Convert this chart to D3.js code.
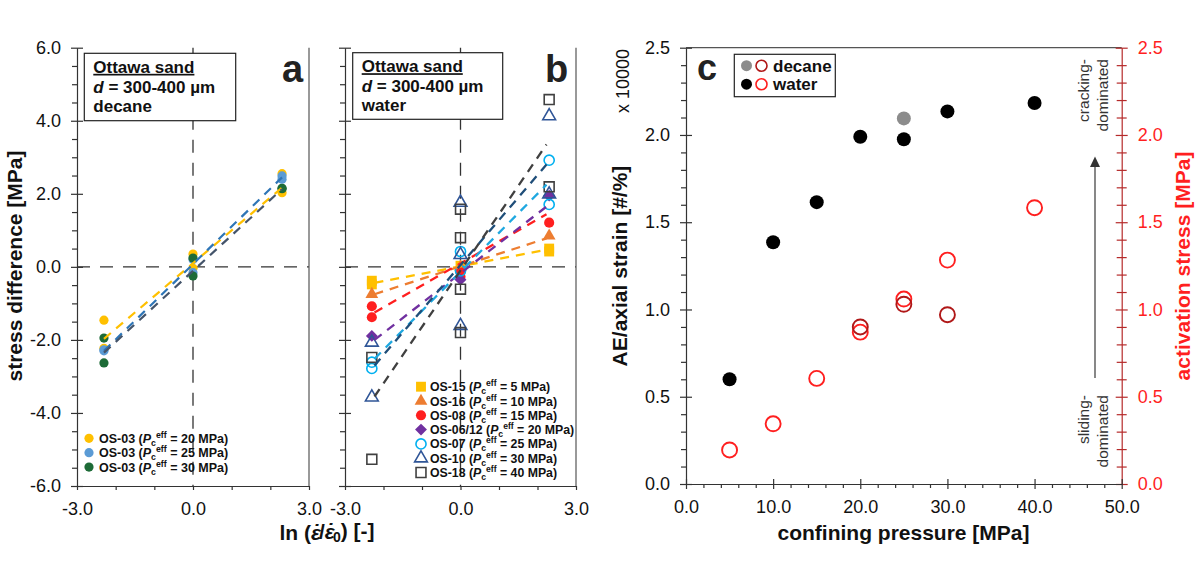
<!DOCTYPE html>
<html>
<head>
<meta charset="utf-8">
<script src="https://cdn.jsdelivr.net/npm/d3@7"></script>
<style>
  body { margin: 0; background: #fff; }
  svg { display: block; }
</style>
</head>
<body>
<div id="chart"></div>
<script>
// ---------- data ----------
var L = 2.303; // ln(10), the strain rate step

// panel a: OS-03 in decane, [ln rate, stress difference]
var os03_20 = [[-L, -1.46], [-L, -2.23], [0, 0.35], [0, -0.04], [L, 2.55], [L, 2.03]];
var os03_25 = [[-L, -2.30], [-L, -2.27], [0, 0.20], [0, -0.16], [L, 2.49], [L, 2.40]];
var os03_30 = [[-L, -1.95], [-L, -2.63], [0, 0.24], [0, -0.25], [L, 2.15], [L, 2.14]];
var aPc = [20, 25, 30];
var aPoints = [os03_20, os03_25, os03_30];
// trend lines, value at -L and +L
var aFits = [[-1.97, 2.17], [-2.30, 2.45], [-2.35, 2.13]];

// panel b: water
var os15 = [[-L, -0.38], [-L, -0.48], [0, 0.03], [L, 0.50], [L, 0.42]];
var os16 = [[-L, -0.75], [0, 0.00], [L, 0.85]];
var os08 = [[-L, -1.08], [-L, -1.38], [0, -0.15], [0, -0.27], [L, 1.21]];
var os0612 = [[-L, -1.89], [0, -0.35], [L, 1.95]];
var os07 = [[-L, -2.61], [-L, -2.78], [0, 0.42], [0, -0.11], [L, 2.92], [L, 1.71]];
var os10 = [[-L, -2.07], [-L, -3.57], [0, 1.76], [0, 0.33], [0, -1.61], [L, 4.13], [L, 1.99]];
var os18 = [[-L, -2.48], [-L, -5.27], [0, 1.58], [0, 0.80], [0, -0.61], [0, -1.80], [L, 4.58], [L, 2.19]];
var bNames = ["OS-15", "OS-16", "OS-08", "OS-06/12", "OS-07", "OS-10", "OS-18"];
var bPc = [5, 10, 15, 20, 25, 30, 40];
var bPoints = [os15, os16, os08, os0612, os07, os10, os18];
var bFits = [[-0.44, 0.47], [-0.75, 0.78], [-1.25, 1.44], [-2.00, 1.65], [-2.52, 2.25], [-2.70, 2.80], [-3.55, 3.35]];

// panel c
var pressure = [5, 10, 15, 20, 25, 30, 40];
var aeWater = [0.60, 1.385, 1.615, 1.99, 1.975, 2.135, 2.183];      // x 10000
var actWater = [0.195, 0.345, 0.605, 0.87, 1.06, 1.283, 1.583];     // MPa
var aeDecaneP = [25];
var aeDecane = [2.095];
var actDecaneP = [20, 25, 30];
var actDecane = [0.90, 1.03, 0.97];

// ticks
var abMajor = [-6, -4, -2, 0, 2, 4, 6];
var abMinor = d3.range(-6, 6.01, 0.5).filter(function (v) { return v % 2 !== 0; });
var lnMajor = [-3, 0, 3];
var lnMinor = [-2, -1, 1, 2];
var cYMajor = [0, 0.5, 1, 1.5, 2, 2.5];
var cYMinor = d3.range(0, 2.51, 0.1).filter(function (v) { return Math.abs(v * 2 - Math.round(v * 2)) > 0.01; });
var cXMajor = [0, 10, 20, 30, 40, 50];
var cXMinor = d3.range(0, 50.1, 2).filter(function (v) { return v % 10 !== 0; });

// ---------- styles ----------
var FONT = '"Liberation Sans", Arial, Helvetica, sans-serif';
var aDot = ["#ffc000", "#5b9bd5", "#1d6b37"];
var aLine = ["#ffc000", "#2e75b6", "#44546a"];
var bColor = ["#ffc000", "#ed7d31", "#ff1f1f", "#7030a0", "#00b0f0", "#2f5597", "#404040"];
var bLine = ["#ffc000", "#ed7d31", "#ff1f1f", "#7030a0", "#1fa8e0", "#1f4e79", "#404040"];
var bFilled = [true, true, true, true, false, false, false];
var bShape = ["square", "triangle", "circle", "diamond", "circle", "triangle", "square"];
var AX = "#333";

var width = 1198, height = 584;
var svg = d3.select("#chart").append("svg")
    .attr("width", width).attr("height", height)
    .style("font-family", FONT);

var fmt = function (v) { return v.toFixed(1); };

// scales
var yAB = d3.scaleLinear().domain([-6, 6]).range([486, 47.7]);
var xA = d3.scaleLinear().domain([-3, 3]).range([77, 309]);
var xB = d3.scaleLinear().domain([-3, 3]).range([345, 576]);
var xC = d3.scaleLinear().domain([0, 50]).range([686, 1121.7]);
var yC = d3.scaleLinear().domain([0, 2.5]).range([484, 47.7]);

function styleAxis(ax, color, size) {
    ax.attr("font-family", FONT).attr("font-size", size || 18);
    ax.selectAll("path, line").attr("stroke", color).attr("stroke-width", 1.2);
    ax.selectAll("text").attr("fill", color === AX ? "#111" : "#ff1f1f");
}

// y axis, major ticks crossing, minor ticks outside
function yAxis(scale, x, majors, minors, labels, side, color) {
    var g = svg.append("g").attr("transform", "translate(" + x + ",0)");
    var mk = side === "right" ? d3.axisRight : d3.axisLeft;
    var sgn = side === "right" ? 1 : -1;
    g.append("g").call(mk(scale).tickValues(minors).tickSize(5).tickFormat("").tickSizeOuter(0))
        .call(function (s) { s.select(".domain").remove(); s.selectAll("line").attr("x1", side === "right" ? -5 : 0); })
        .call(styleAxis, color);
    var m = g.append("g").call(mk(scale).tickValues(majors).tickSize(6).tickPadding(10)
        .tickSizeOuter(0).tickFormat(labels ? fmt : ""));
    m.selectAll(".tick line").attr("x1", -sgn * 6);
    styleAxis(m, color);
    return g;
}

function xAxis(scale, y, majors, minors, cross) {
    var g = svg.append("g").attr("transform", "translate(0," + y + ")");
    g.append("g").call(d3.axisBottom(scale).tickValues(minors).tickSize(4).tickFormat("").tickSizeOuter(0))
        .call(function (s) { s.select(".domain").remove(); })
        .call(styleAxis, AX);
    var m = g.append("g").call(d3.axisBottom(scale).tickValues(majors).tickSize(cross ? 5 : 4)
        .tickPadding(cross ? 11 : 12).tickSizeOuter(0).tickFormat(fmt));
    if (cross) m.selectAll(".tick line").attr("y1", -5);
    styleAxis(m, AX);
    return g;
}

function symbolPath(shape, size) {
    if (shape === "square") return d3.symbol().type(d3.symbolSquare).size(size)();
    if (shape === "triangle") return d3.symbol().type(d3.symbolTriangle).size(size * 0.72)();
    if (shape === "diamond") return d3.symbol().type(d3.symbolSquare).size(size * 0.72)();
    return d3.symbol().type(d3.symbolCircle).size(size * 0.82)();
}

function drawMarker(g, shape, filled, color, x, y) {
    var p = g.append("path")
        .attr("d", symbolPath(shape, 98))
        .attr("transform", "translate(" + x + "," + y + ")" + (shape === "diamond" ? " rotate(45)" : ""));
    if (filled) p.attr("fill", color);
    else p.attr("fill", "none").attr("stroke", color).attr("stroke-width", 1.6);
}

// legend label "NAME (Pc^eff = N MPa)"
function pcLabel(g, x, y, name, pc, size) {
    var t = g.append("text").attr("x", x).attr("y", y)
        .attr("font-size", size).attr("font-weight", "bold").attr("fill", "#111");
    t.append("tspan").text(name + " (");
    t.append("tspan").attr("font-style", "italic").text("P");
    t.append("tspan").attr("font-size", size * 0.7).attr("dy", 3).text("c");
    t.append("tspan").attr("font-size", size * 0.7).attr("dy", -8).text("eff");
    t.append("tspan").attr("dy", 5).text(" = " + pc + " MPa)");
}

function infoBox(x, y, w, h, liquid) {
    svg.append("rect").attr("x", x).attr("y", y).attr("width", w).attr("height", h)
        .attr("fill", "#fff").attr("stroke", "#222").attr("stroke-width", 1.2);
    var tx = x + 9;
    svg.append("text").attr("x", tx).attr("y", y + 19.5).attr("font-size", 17).attr("font-weight", "bold")
        .attr("text-decoration", "underline").attr("fill", "#111").text("Ottawa sand");
    var t = svg.append("text").attr("x", tx).attr("y", y + 39.5).attr("font-size", 17)
        .attr("font-weight", "bold").attr("fill", "#111");
    t.append("tspan").attr("font-style", "italic").text("d");
    t.append("tspan").text(" = 300-400 \u00b5m");
    svg.append("text").attr("x", tx).attr("y", y + 58.5).attr("font-size", 17).attr("font-weight", "bold")
        .attr("fill", "#111").text(liquid);
}

// ---------- panels a and b ----------
[[xA, aPoints, aFits], [xB, bPoints, bFits]].forEach(function (p, k) {
    var x = p[0];
    // zero lines
    svg.append("line").attr("x1", x(-3)).attr("x2", x(3)).attr("y1", yAB(0)).attr("y2", yAB(0))
        .attr("stroke", "#333").attr("stroke-width", 1.3).attr("stroke-dasharray", "13,10");
    svg.append("line").attr("x1", x(0)).attr("x2", x(0)).attr("y1", yAB(6)).attr("y2", yAB(-6))
        .attr("stroke", "#333").attr("stroke-width", 1.3).attr("stroke-dasharray", "13,10");
    // right frame
    svg.append("line").attr("x1", x(3)).attr("x2", x(3)).attr("y1", yAB(6)).attr("y2", yAB(-6))
        .attr("stroke", "#555").attr("stroke-width", 1.2);
    yAxis(yAB, x(-3), abMajor, abMinor, k === 0, "left", AX);
    xAxis(x, yAB(-6), lnMajor, lnMinor, false);
});

// panel a points + trend lines
var ga = svg.append("g");
aPoints.forEach(function (pts, i) {
    ga.selectAll(null).data(pts).enter().append("circle")
        .attr("cx", function (d) { return xA(d[0]); })
        .attr("cy", function (d) { return yAB(d[1]); })
        .attr("r", 4.6).attr("fill", aDot[i]);
});
aFits.forEach(function (f, i) {
    ga.append("line").attr("x1", xA(-L)).attr("y1", yAB(f[0])).attr("x2", xA(L)).attr("y2", yAB(f[1]))
        .attr("stroke", aLine[i]).attr("stroke-width", 2.2).attr("stroke-dasharray", "9,7");
});

// panel b points + trend lines
var gb = svg.append("g");
bPoints.forEach(function (pts, i) {
    pts.forEach(function (d) { drawMarker(gb, bShape[i], bFilled[i], bColor[i], xB(d[0]), yAB(d[1])); });
});
bFits.forEach(function (f, i) {
    gb.append("line").attr("x1", xB(-L * 0.97)).attr("y1", yAB(f[0])).attr("x2", xB(L * 0.97)).attr("y2", yAB(f[1]))
        .attr("stroke", bLine[i]).attr("stroke-width", 2.3).attr("stroke-dasharray", "9,7");
});

infoBox(84.3, 53.3, 151.4, 67.4, "decane");
infoBox(352.7, 52.7, 150, 66.6, "water");
svg.append("text").attr("x", 282).attr("y", 82).attr("font-size", 38).attr("font-weight", "bold").attr("fill", "#222").text("a");
svg.append("text").attr("x", 545).attr("y", 82).attr("font-size", 38).attr("font-weight", "bold").attr("fill", "#222").text("b");

// legends a and b
aPc.forEach(function (pc, i) {
    var cy = 438.3 + i * 14.4;
    ga.append("circle").attr("cx", 89).attr("cy", cy).attr("r", 4.6).attr("fill", aDot[i]);
    pcLabel(ga, 99, cy + 4.5, "OS-03", pc, 12.5);
});
bNames.forEach(function (n, i) {
    var cy = 386.7 + i * 14.3;
    drawMarker(gb, bShape[i], bFilled[i], bColor[i], 421, cy);
    pcLabel(gb, 430, cy + 4.5, n, bPc[i], 12.3);
});

// titles a/b
svg.append("text").attr("transform", "translate(22,266) rotate(-90)").attr("text-anchor", "middle")
    .attr("font-size", 21).attr("font-weight", "bold").attr("fill", "#111").text("stress difference [MPa]");
var xt = svg.append("text").attr("x", 327).attr("y", 540).attr("text-anchor", "middle")
    .attr("font-size", 21).attr("font-weight", "bold").attr("fill", "#111");
// epsilon with a dot placed over it (spacing dot above, pulled back)
function epsDot(t) {
    t.append("tspan").attr("font-style", "italic").text("\u03b5");
    t.append("tspan").attr("font-style", "italic").attr("dx", -9).attr("dy", -1).text("\u02d9");
    t.append("tspan").attr("dx", 2).attr("dy", 1).text("");
}
xt.append("tspan").text("ln (");
epsDot(xt);
xt.append("tspan").text("/");
epsDot(xt);
xt.append("tspan").attr("font-size", 14).attr("dy", 4).text("0");
xt.append("tspan").attr("dy", -4).text(") [-]");

// ---------- panel c ----------
svg.append("line").attr("x1", xC(0)).attr("x2", xC(50)).attr("y1", yC(2.5)).attr("y2", yC(2.5))
    .attr("stroke", "#555").attr("stroke-width", 1.2);
yAxis(yC, xC(0), cYMajor, cYMinor, true, "left", AX);
yAxis(yC, xC(50), cYMajor, cYMinor, true, "right", "#b52a2a");
xAxis(xC, yC(0), cXMajor, cXMinor, true);

var gc = svg.append("g");
gc.selectAll(null).data(pressure).enter().append("circle")
    .attr("cx", function (d) { return xC(d); })
    .attr("cy", function (d, i) { return yC(aeWater[i]); })
    .attr("r", 7).attr("fill", "#000");
gc.selectAll(null).data(aeDecaneP).enter().append("circle")
    .attr("cx", function (d) { return xC(d); })
    .attr("cy", function (d, i) { return yC(aeDecane[i]); })
    .attr("r", 7).attr("fill", "#8c8c8c");
gc.selectAll(null).data(pressure).enter().append("circle")
    .attr("cx", function (d) { return xC(d); })
    .attr("cy", function (d, i) { return yC(actWater[i]); })
    .attr("r", 7.5).attr("fill", "none").attr("stroke", "#ff1f1f").attr("stroke-width", 1.9);
gc.selectAll(null).data(actDecaneP).enter().append("circle")
    .attr("cx", function (d) { return xC(d); })
    .attr("cy", function (d, i) { return yC(actDecane[i]); })
    .attr("r", 7.5).attr("fill", "none").attr("stroke", "#b01818").attr("stroke-width", 1.9);

// legend c
svg.append("rect").attr("x", 734.3).attr("y", 54.3).attr("width", 101).attr("height", 42.4)
    .attr("fill", "#fff").attr("stroke", "#222").attr("stroke-width", 1.2);
[["decane", "#8c8c8c", "#b01818"], ["water", "#000", "#ff1f1f"]].forEach(function (r, i) {
    var cy = 65.7 + i * 18.5;
    svg.append("circle").attr("cx", 746.5).attr("cy", cy).attr("r", 5.5).attr("fill", r[1]);
    svg.append("circle").attr("cx", 761.5).attr("cy", cy).attr("r", 5.5).attr("fill", "none")
        .attr("stroke", r[2]).attr("stroke-width", 1.6);
    svg.append("text").attr("x", 773).attr("y", cy + 6).attr("font-size", 17).attr("font-weight", "bold")
        .attr("fill", "#111").text(r[0]);
});
svg.append("text").attr("x", 697).attr("y", 80).attr("font-size", 36).attr("font-weight", "bold").attr("fill", "#222").text("c");

// arrow + regime notes
svg.append("line").attr("x1", 1095).attr("x2", 1095).attr("y1", 378).attr("y2", 164)
    .attr("stroke", "#555").attr("stroke-width", 1.4);
svg.append("path").attr("d", "M1095,156.5 L1100,167 L1090,167 Z").attr("fill", "#333");
[["cracking-", "dominated", 59], ["sliding-", "dominated", 395]].forEach(function (n) {
    var t = svg.append("text").attr("transform", "translate(1089," + n[2] + ") rotate(-90)")
        .attr("text-anchor", "end").attr("font-size", 15.5).attr("fill", "#333");
    t.append("tspan").attr("x", 0).attr("y", 0).text(n[0]);
    t.append("tspan").attr("x", 0).attr("y", 18.5).text(n[1]);
});

// titles c
svg.append("text").attr("transform", "translate(627,266) rotate(-90)").attr("text-anchor", "middle")
    .attr("font-size", 21).attr("font-weight", "bold").attr("fill", "#111").text("AE/axial strain [#/%]");
svg.append("text").attr("transform", "translate(629,81) rotate(-90)").attr("text-anchor", "middle")
    .attr("font-size", 18).attr("fill", "#111").text("x 10000");
svg.append("text").attr("transform", "translate(1190,266) rotate(-90)").attr("text-anchor", "middle")
    .attr("font-size", 21).attr("font-weight", "bold").attr("fill", "#ff1f1f").text("activation stress [MPa]");
svg.append("text").attr("x", 903.5).attr("y", 540).attr("text-anchor", "middle")
    .attr("font-size", 21).attr("font-weight", "bold").attr("fill", "#111").text("confining pressure [MPa]");
</script>
</body>
</html>
